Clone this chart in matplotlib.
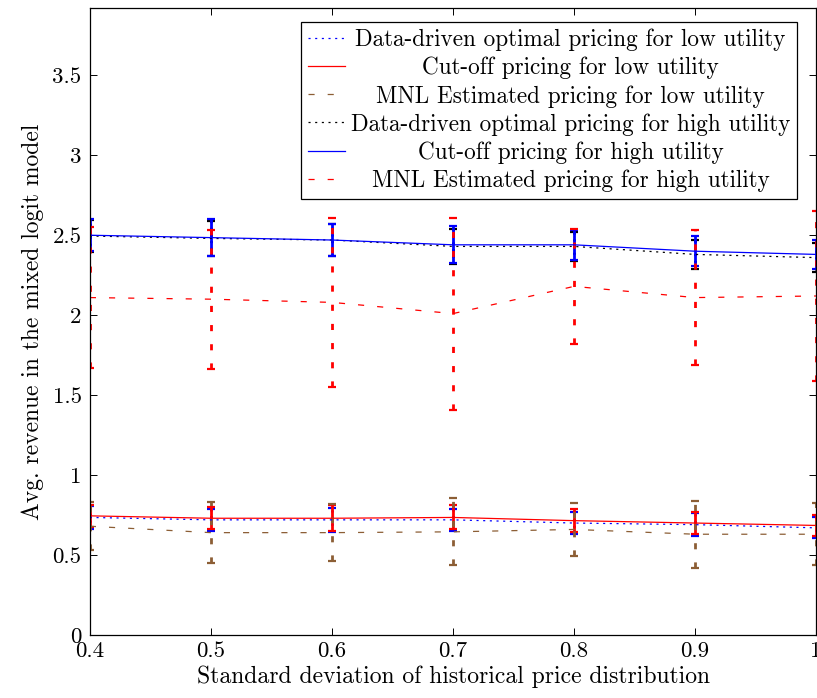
import numpy as np
import matplotlib
matplotlib.use('Agg')
import matplotlib.pyplot as plt

plt.rcParams['font.family'] = ['cmr10', 'DejaVu Serif']
plt.rcParams['mathtext.fontset'] = 'cm'
plt.rcParams['axes.formatter.use_mathtext'] = True
plt.rcParams['lines.scale_dashes'] = False

sigma = [0.4, 0.5, 0.6, 0.7, 0.8, 0.9, 1.0]

dd_low = [0.735, 0.72, 0.72, 0.72, 0.70, 0.69, 0.67]
dd_low_err = [0.07, 0.07, 0.075, 0.07, 0.07, 0.07, 0.065]
cut_low = [0.745, 0.73, 0.73, 0.735, 0.715, 0.70, 0.685]
cut_low_err = [0.07, 0.07, 0.08, 0.075, 0.07, 0.07, 0.065]
mnl_low = [0.68, 0.64, 0.64, 0.645, 0.66, 0.63, 0.63]
mnl_low_err = [0.15, 0.19, 0.18, 0.21, 0.165, 0.21, 0.195]

dd_high = [2.495, 2.48, 2.47, 2.43, 2.43, 2.38, 2.36]
dd_high_err = [0.10, 0.11, 0.10, 0.11, 0.09, 0.09, 0.09]
cut_high = [2.50, 2.485, 2.47, 2.44, 2.44, 2.40, 2.38]
cut_high_err = [0.10, 0.115, 0.10, 0.115, 0.095, 0.095, 0.09]
mnl_high = [2.11, 2.10, 2.08, 2.01, 2.18, 2.11, 2.12]
mnl_high_err = [0.44, 0.435, 0.53, 0.60, 0.36, 0.42, 0.53]

labels = ['Data-driven optimal pricing for low utility',
          'Cut-off pricing for low utility',
          'MNL Estimated pricing for low utility',
          'Data-driven optimal pricing for high utility',
          'Cut-off pricing for high utility',
          'MNL Estimated pricing for high utility']

brown = '#8c5e35'
dotted = (0, (1.5, 3.3))
dashed = (0, (4.4, 9.4))
series = [
    (dd_low, dd_low_err, 'blue', dotted),
    (cut_low, cut_low_err, 'red', '-'),
    (mnl_low, mnl_low_err, brown, dashed),
    (dd_high, dd_high_err, 'black', dotted),
    (cut_high, cut_high_err, 'blue', '-'),
    (mnl_high, mnl_high_err, 'red', dashed),
]

fig = plt.figure(figsize=(8.17, 6.98), dpi=100)
ax = fig.add_axes([0.110, 0.0903, 0.889, 0.898])

handles = []
for (y, e, c, ls), lab in zip(series, labels):
    cont = ax.errorbar(sigma, y, yerr=e, color=c, linestyle=ls, linewidth=0.9,
                       elinewidth=2.0, capsize=3.0, capthick=1.6, label=lab)
    cont[2][0].set_linestyle(ls)
    handles.append(cont[0])

ax.set_xlim(0.4, 1.0)
ax.set_ylim(0, 3.92)
ax.set_xticks(sigma)
ax.set_xticklabels(['0.4', '0.5', '0.6', '0.7', '0.8', '0.9', '1'])
ax.set_yticks([0, 0.5, 1, 1.5, 2, 2.5, 3, 3.5])
ax.set_yticklabels(['0', '0.5', '1', '1.5', '2', '2.5', '3', '3.5'])
ax.tick_params(direction='in', length=5, width=0.7, top=True, right=True,
               labelsize=16.5)
ax.tick_params(axis='x', pad=5)
ax.tick_params(axis='y', pad=6)
for s in ax.spines.values():
    s.set_linewidth(0.9)

ax.set_xlabel('Standard deviation of historical price distribution', fontsize=17, labelpad=3)
ax.set_ylabel('Avg. revenue in the mixed logit model', fontsize=17, labelpad=6)

leg = ax.legend(handles, labels, loc='upper right', bbox_to_anchor=(0.974, 0.978),
                borderaxespad=0, fontsize=16.7, frameon=True, fancybox=False,
                edgecolor='black', framealpha=1, handlelength=1.6,
                handletextpad=0.25, labelspacing=0.24, borderpad=0.3)
leg.get_frame().set_linewidth(0.9)

# centre the legend texts like pgfplots does
fig.canvas.draw()
r = fig.canvas.get_renderer()
widths = [t.get_window_extent(r).width for t in leg.get_texts()]
wmax = max(widths)
for t, w in zip(leg.get_texts(), widths):
    t.set_x((wmax - w) / 2)

fig.savefig('out.png', dpi=100)
